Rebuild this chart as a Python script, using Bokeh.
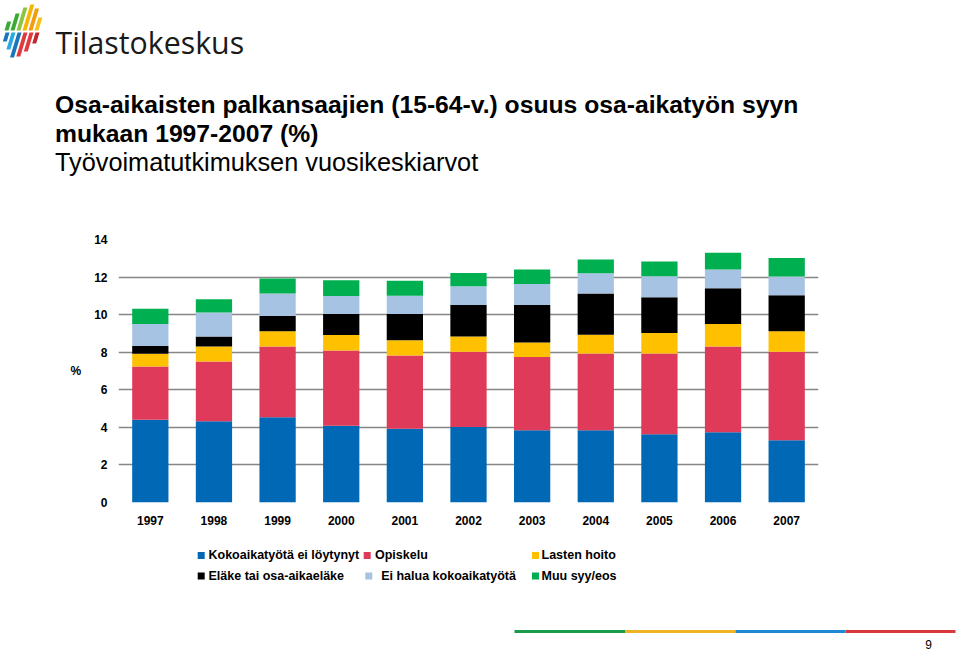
from bokeh.plotting import figure
from bokeh.models import ColumnDataSource, Range1d, FixedTicker
from bokeh.layouts import column
from bokeh.core.properties import value
from bokeh.embed import file_html
from bokeh.resources import INLINE

# ---------------- data ----------------
years = ["1997", "1998", "1999", "2000", "2001", "2002", "2003", "2004", "2005", "2006", "2007"]
series_names = ["Kokoaikatyötä ei löytynyt", "Opiskelu", "Lasten hoito",
                "Eläke tai osa-aikaeläke", "Ei halua kokoaikatyötä", "Muu syy/eos"]
kokoaikatyota_ei_loytynyt = [4.41, 4.32, 4.54, 4.09, 3.93, 4.02, 3.84, 3.84, 3.63, 3.74, 3.31]
opiskelu = [2.83, 3.19, 3.77, 4.00, 3.90, 4.01, 3.90, 4.09, 4.30, 4.57, 4.72]
lasten_hoito = [0.68, 0.80, 0.80, 0.82, 0.81, 0.80, 0.78, 1.00, 1.09, 1.19, 1.09]
elake = [0.41, 0.52, 0.82, 1.12, 1.39, 1.68, 1.99, 2.19, 1.90, 1.90, 1.91]
ei_halua = [1.17, 1.29, 1.19, 0.96, 0.98, 1.00, 1.12, 1.08, 1.12, 1.00, 1.00]
muu_syy = [0.82, 0.70, 0.80, 0.84, 0.80, 0.71, 0.77, 0.73, 0.79, 0.89, 0.99]
y_ticks = [0, 2, 4, 6, 8, 10, 12, 14]

colors = ["#0068B4", "#E03A5A", "#FFC000", "#000000", "#A7C3E3", "#00B050"]

title_lines = ["Osa-aikaisten palkansaajien (15-64-v.) osuus osa-aikatyön syyn",
               "mukaan 1997-2007 (%)"]
subtitle = "Työvoimatutkimuksen vuosikeskiarvot"

FONT = value("Liberation Sans")
W = 960
H1, H2 = 198, 342
H3 = 652 - H1 - H2


def plain_fig(h):
    f = figure(width=W, height=h, x_range=Range1d(0, W), y_range=Range1d(h, 0),
               x_axis_type=None, y_axis_type=None, min_border=0,
               toolbar_location=None, output_backend="svg")
    f.outline_line_color = None
    f.grid.visible = False
    try:
        f.frame_align = False
    except Exception:
        pass
    return f


# ---------------- header (page pixel coordinates) ----------------
head = plain_fig(H1)
slant = 0.3
top_x = [6, 12, 18, 24, 30, 36]
top_y = [21, 13, 7, 4, 8, 17]
top_c = ["#3AA935", "#3AA935", "#8CC63F", "#F7B500", "#F39C12", "#F7C31A"]
bot_x = [7, 13, 19, 25, 31, 37]
bot_y = [41, 49, 57, 56, 51, 43]
bot_c = ["#1C75BC", "#27A9E1", "#1C75BC", "#E03A3E", "#E03A3E", "#C1272D"]
xs, ys, cs = [], [], []
for x0, yt, c in zip(top_x, top_y, top_c):
    y0 = 30
    dx = slant * (y0 - yt)
    xs.append([x0 - 2, x0 + 2, x0 + 2 + dx, x0 - 2 + dx])
    ys.append([y0, y0, yt, yt])
    cs.append(c)
for x0, yb, c in zip(bot_x, bot_y, bot_c):
    y0 = 32
    dx = slant * (yb - y0)
    xs.append([x0 - 2, x0 + 2, x0 + 2 - dx, x0 - 2 - dx])
    ys.append([y0, y0, yb, yb])
    cs.append(c)
head.patches(xs=xs, ys=ys, fill_color=cs, line_color=None)
head.text(x=[55], y=[41.7], text=["Tilastokeskus"], text_font=value("Open Sans"),
          text_font_size="30.3px", text_color="#1a1a1a", text_baseline="alphabetic")
head.text(x=[54.5, 54.5], y=[104, 132.7], text=title_lines, text_font=FONT,
          text_font_style="bold", text_font_size="24.7px", text_color="#000000",
          text_baseline="alphabetic")
head.text(x=[54.5], y=[161], text=[subtitle], text_font=FONT,
          text_font_size="25.3px", text_color="#000000", text_baseline="alphabetic")

# ---------------- chart ----------------
idx = list(range(len(years)))
src = ColumnDataSource(dict(x=idx,
                            s0=kokoaikatyota_ei_loytynyt, s1=opiskelu, s2=lasten_hoito,
                            s3=elake, s4=ei_halua, s5=muu_syy))
p = figure(width=W, height=H2, x_range=Range1d(-0.5, len(years) - 0.5), y_range=Range1d(0, 14),
           min_border_left=118, min_border_right=W - 818, min_border_top=239 - H1,
           min_border_bottom=H1 + H2 - 502, toolbar_location=None, output_backend="svg")
try:
    p.frame_align = False
except Exception:
    pass
p.vbar_stack(["s0", "s1", "s2", "s3", "s4", "s5"], x="x", width=0.57,
             color=colors, line_color=None, source=src)
p.outline_line_color = None
p.xgrid.visible = False
p.ygrid.grid_line_color = "#868686"
p.ygrid.grid_line_width = 1.5
p.yaxis.ticker = FixedTicker(ticks=y_ticks)
p.xaxis.ticker = FixedTicker(ticks=idx)
p.xaxis.major_label_overrides = {i: y for i, y in zip(idx, years)}
for ax in (p.xaxis[0], p.yaxis[0]):
    ax.axis_line_color = None
    ax.major_tick_line_color = None
    ax.minor_tick_line_color = None
    ax.major_tick_out = 0
    ax.minor_tick_out = 0
    ax.major_label_text_font = "Liberation Sans"
    ax.major_label_text_font_style = "bold"
    ax.major_label_text_font_size = "12px"
    ax.major_label_text_color = "#000000"
p.yaxis.major_label_standoff = 11
p.xaxis.major_label_standoff = 13
p.yaxis.axis_label = "%"
p.yaxis.axis_label_orientation = "horizontal"
p.yaxis.axis_label_standoff = 10
p.yaxis.axis_label_text_font = "Liberation Sans"
p.yaxis.axis_label_text_font_style = "bold"
p.yaxis.axis_label_text_font_size = "12px"
p.yaxis.axis_label_text_color = "#000000"

# ---------------- footer (y = page y - 540) ----------------
foot = plain_fig(H3)
oy = H1 + H2
sq_x = [200.7, 366.7, 535, 200.7, 368.3, 535]
sq_y = [555 - oy, 555 - oy, 555 - oy, 575.5 - oy, 575.5 - oy, 575.5 - oy]
tx_x = [208, 374.5, 541, 208, 380.7, 541]
tx_y = [554.5 - oy, 554.5 - oy, 554.5 - oy, 575 - oy, 575 - oy, 575 - oy]
foot.rect(x=sq_x, y=sq_y, width=7, height=7, fill_color=colors, line_color=None)
foot.text(x=tx_x, y=tx_y, text=series_names, text_font=FONT, text_font_style="bold",
          text_font_size="12.5px", text_color="#000000", text_baseline="middle")
stripe_l = [514, 625, 735, 845]
stripe_r = [625, 735, 845, 955]
stripe_c = ["#1A9B4B", "#F0B323", "#1E88D2", "#D9363E"]
foot.quad(left=stripe_l, right=stripe_r, top=[629.5 - oy] * 4, bottom=[632.5 - oy] * 4,
          fill_color=stripe_c, line_color=None)
foot.text(x=[928], y=[644 - oy], text=["9"], text_font=FONT, text_font_size="12px",
          text_color="#000000", text_align="center", text_baseline="middle")

layout = column(head, p, foot, spacing=0)
open("out.html", "w").write(file_html(layout, INLINE))
